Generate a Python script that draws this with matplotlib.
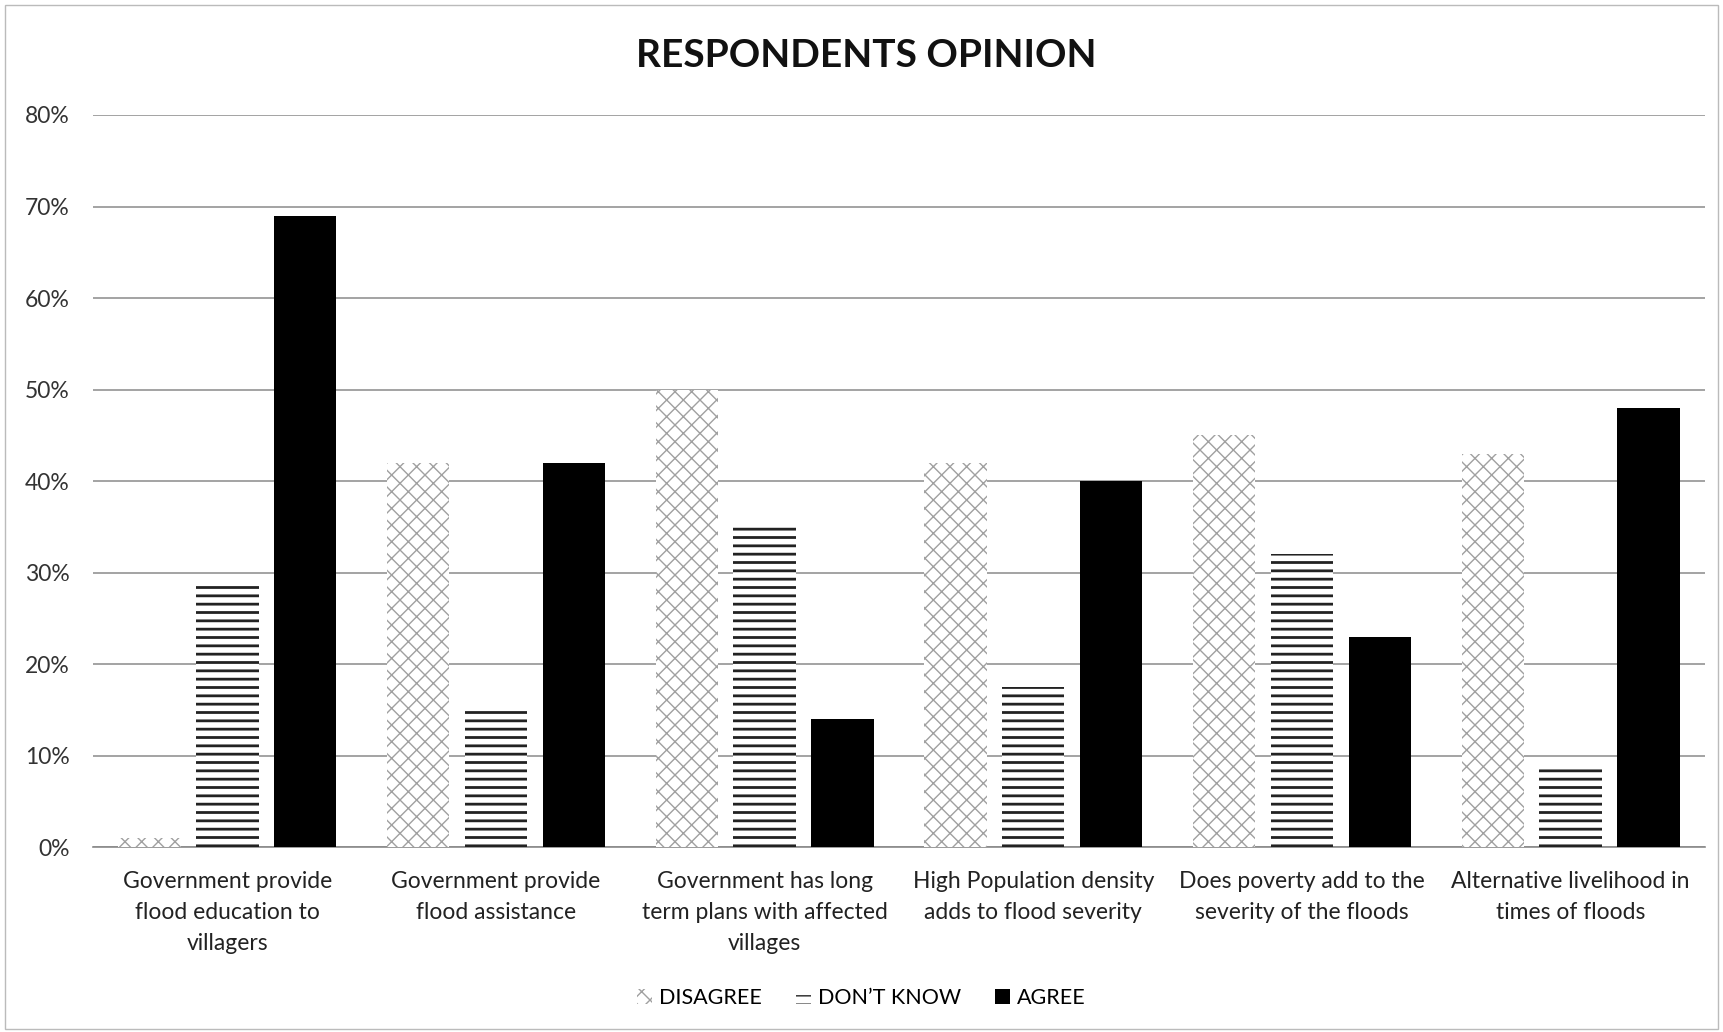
import matplotlib
matplotlib.use('Agg')
import matplotlib.pyplot as plt
import numpy as np

plt.rcParams['font.family'] = ['Lato', 'DejaVu Sans']

# data
categories = ['Government provide\nflood education to\nvillagers',
              'Government provide\nflood assistance',
              'Government has long\nterm plans with affected\nvillages',
              'High Population density\nadds to flood severity',
              'Does poverty add to the\nseverity of the floods',
              'Alternative livelihood in\ntimes of floods']
disagree = [0.01, 0.42, 0.50, 0.42, 0.45, 0.43]
dont_know = [0.29, 0.15, 0.35, 0.175, 0.32, 0.09]
agree = [0.69, 0.42, 0.14, 0.40, 0.23, 0.48]
yticks = [0, 0.1, 0.2, 0.3, 0.4, 0.5, 0.6, 0.7, 0.8]
ytick_labels = ['0%', '10%', '20%', '30%', '40%', '50%', '60%', '70%', '80%']

fig = plt.figure(figsize=(17.23, 10.32), dpi=100)
ax = fig.add_axes([0.054, 0.179, 0.9355, 0.7096])

x = np.arange(len(categories))
step = 0.29
w = 0.232

b1 = ax.bar(x - step, disagree, w, color='white', edgecolor='#a0a0a0',
            hatch='xx', linewidth=0, label='DISAGREE', zorder=3)
b2 = ax.bar(x, dont_know, w, color='white', edgecolor='#222222',
            hatch='--', linewidth=0, label='DON\u2019T KNOW', zorder=3)
b3 = ax.bar(x + step, agree, w, color='black', edgecolor='black',
            linewidth=0, label='AGREE', zorder=3)
for p in b2:
    if hasattr(p, 'set_hatch_linewidth'):
        p.set_hatch_linewidth(2.0)

ax.set_ylim(0, 0.8)
ax.set_xlim(-0.5, 5.5)
ax.set_yticks(yticks)
ax.set_yticklabels(ytick_labels, fontsize=16.5, color='#333333')
ax.set_xticks(x)
ax.set_xticklabels(categories, fontsize=16.5, color='#222222', linespacing=1.58)
ax.tick_params(axis='both', length=0)
ax.tick_params(axis='y', pad=17)
ax.tick_params(axis='x', pad=17)
ax.yaxis.grid(True, color='#8a8a8a', linewidth=1.1, zorder=0)
ax.set_axisbelow(True)
for s in ['top', 'right', 'left']:
    ax.spines[s].set_visible(False)
ax.spines['bottom'].set_color('#8a8a8a')
ax.spines['bottom'].set_linewidth(1.2)

fig.text(0.503, 0.946, 'RESPONDENTS OPINION', ha='center', va='center',
         fontsize=28, fontweight='bold', color='#111111')

leg = fig.legend(handles=[b1, b2, b3], loc='center', bbox_to_anchor=(0.5, 0.033),
                 ncol=3, frameon=False, fontsize=15.5, handlelength=0.7,
                 handleheight=0.7, handletextpad=0.3, columnspacing=1.6)

# outer frame
fig.patches.append(plt.Rectangle((0.003, 0.003), 0.994, 0.992, transform=fig.transFigure,
                                 fill=False, edgecolor='#bbbbbb', linewidth=1))

fig.savefig('out.png', dpi=100)
